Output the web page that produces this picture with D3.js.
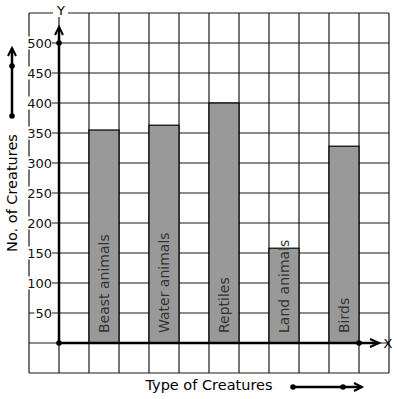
<!DOCTYPE html>
<html>
<head>
<meta charset="utf-8">
<script src="https://cdn.jsdelivr.net/npm/d3@7"></script>
<style>
  body { margin: 0; background: #fff; }
  svg { display: block; font-family: "DejaVu Sans", sans-serif; }
</style>
</head>
<body>
<svg width="397" height="399"></svg>
<script>
const categories = ['Beast animals', 'Water animals', 'Reptiles', 'Land animals', 'Birds']
const counts = [355, 363, 400, 158, 328]
const barColumns = [1, 3, 5, 7, 9]
const yTicks = [50, 100, 150, 200, 250, 300, 350, 400, 450, 500]

const svg = d3.select('svg')
const x = d3.scaleLinear().domain([-1, 11]).range([29, 389])
const y = d3.scaleLinear().domain([-50, 550]).range([373, 13])
const ink = '#1a1a1a'

// grid
const grid = svg.append('g').attr('stroke', ink).attr('stroke-width', 1.2)
grid.selectAll('.vline').data(d3.range(-1, 12)).enter().append('line')
    .attr('x1', d => x(d)).attr('x2', d => x(d))
    .attr('y1', y(550)).attr('y2', y(-50))
grid.selectAll('.hline').data(d3.range(-50, 551, 50)).enter().append('line')
    .attr('y1', d => y(d)).attr('y2', d => y(d))
    .attr('x1', x(-1)).attr('x2', x(11))

// bars
svg.selectAll('.bar').data(counts).enter().append('rect')
    .attr('x', (d, i) => x(barColumns[i]))
    .attr('y', d => y(d))
    .attr('width', x(1) - x(0))
    .attr('height', d => y(0) - y(d))
    .attr('fill', '#999')
    .attr('stroke', '#000')
    .attr('stroke-width', 1.2)

svg.selectAll('.bar-label').data(categories).enter().append('text')
    .attr('transform', (d, i) => `translate(${x(barColumns[i] + 0.5) + 5},${y(0) - 10}) rotate(-90)`)
    .attr('fill', '#333')
    .style('font-size', '14px')
    .text(d => d)

// y tick labels with white background
const labels = svg.append('g')
yTicks.forEach(function (v) {
    let t = labels.append('text')
        .attr('x', 52).attr('y', y(v) + 4.5)
        .attr('text-anchor', 'end')
        .style('font-size', '13px')
        .attr('fill', '#111')
        .text(v)
    let b = t.node().getBBox()
    labels.insert('rect', () => t.node())
        .attr('x', b.x - 1).attr('y', b.y + 1).attr('width', b.width + 1).attr('height', b.height - 2)
        .attr('fill', '#fff')
})

// axes
const axes = svg.append('g').attr('stroke', '#000').attr('stroke-width', 2.5).attr('fill', 'none')
axes.append('line').attr('x1', x(0)).attr('x2', x(0)).attr('y1', y(0)).attr('y2', 27)
axes.append('path').attr('d', `M${x(0) - 4},35 L${x(0)},27 L${x(0) + 4},35`).attr('stroke-width', 2)
axes.append('line').attr('x1', x(0)).attr('x2', 379).attr('y1', y(0)).attr('y2', y(0))
axes.append('path').attr('d', `M370,${y(0) - 4} L379,${y(0)} L370,${y(0) + 4}`).attr('stroke-width', 2)

const dots = [[x(0), y(500)], [x(0), y(0)], [x(10), y(0)], [12, 66], [12, 116], [293, 387], [343, 387]]
svg.selectAll('.dot').data(dots).enter().append('circle')
    .attr('cx', d => d[0]).attr('cy', d => d[1]).attr('r', 2.8).attr('fill', '#000')

// side arrows
axes.append('line').attr('x1', 12).attr('x2', 12).attr('y1', 116).attr('y2', 48)
axes.append('path').attr('d', 'M8,56 L12,48 L16,56').attr('stroke-width', 2)
axes.append('line').attr('x1', 293).attr('x2', 362).attr('y1', 387).attr('y2', 387)
axes.append('path').attr('d', 'M354,383 L362,387 L354,391').attr('stroke-width', 2)

// axis letters
svg.append('rect').attr('x', 53).attr('y', 5).attr('width', 15).attr('height', 12).attr('fill', '#fff')
svg.append('text').attr('x', 61).attr('y', 15).attr('text-anchor', 'middle')
    .style('font-size', '13px').text('Y')
svg.append('text').attr('x', 388).attr('y', 348).attr('text-anchor', 'middle')
    .style('font-size', '13px').text('X')

// titles
svg.append('text').attr('x', 209).attr('y', 390).attr('text-anchor', 'middle')
    .style('font-size', '14.5px').text('Type of Creatures')
svg.append('text').attr('transform', 'translate(17,193) rotate(-90)').attr('text-anchor', 'middle')
    .style('font-size', '14.5px').text('No. of Creatures')
</script>
</body>
</html>
